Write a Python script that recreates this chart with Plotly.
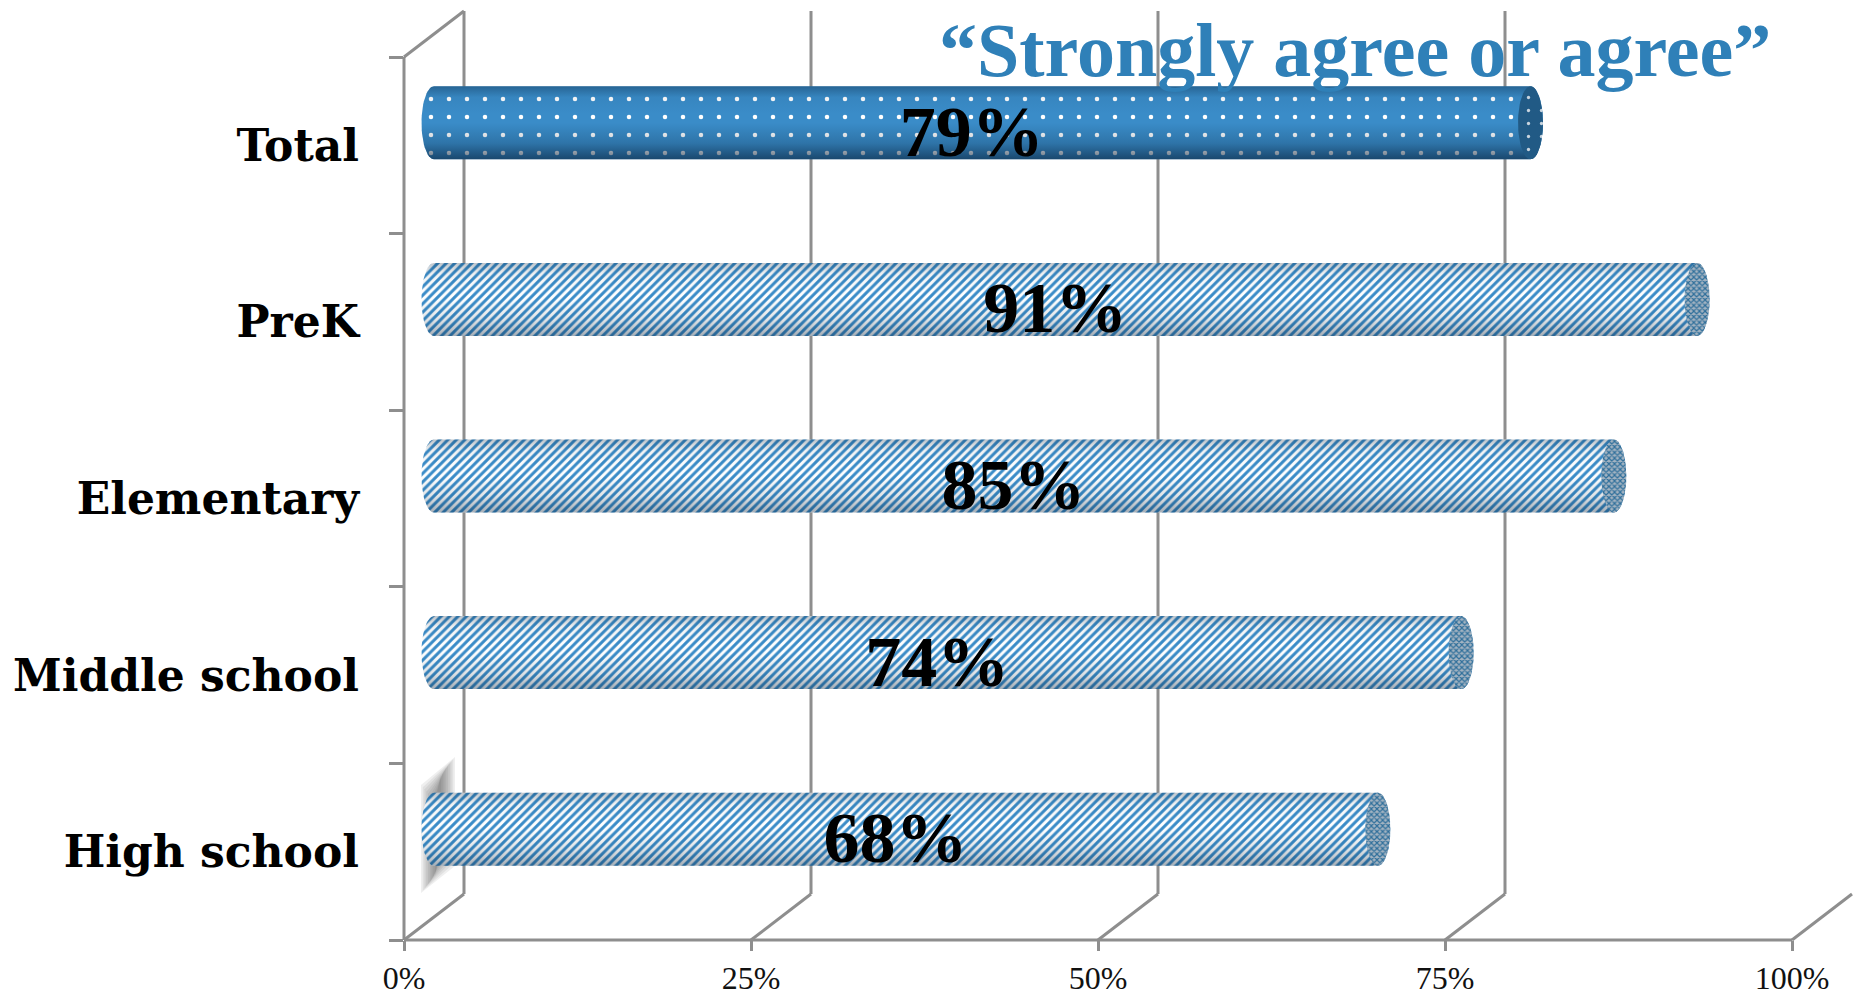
import numpy as np
import plotly.graph_objects as go

categories = ["High school", "Middle school", "Elementary", "PreK", "Total"]
values = [68, 74, 85, 91, 79]
x_ticks = [0, 25, 50, 75, 100]
x_tick_labels = ["0%", "25%", "50%", "75%", "100%"]
title_text = "“Strongly agree or agree”"

W, H = 1855, 998
L, B = 404, 58
PX_X = 13.88           # px per percent
PX_Y = 176.6           # px per category
XMAX = (W - L) / PX_X
YMIN, YMAX = -0.5, -0.5 + (H - B) / PX_Y
DX = 60 / PX_X         # wall depth
DY = 46 / PX_Y
TOP = 4.5
BLUE = "#3a8cc8"
GRID = "#8e8e8e"
BAR_W = 73 / PX_Y
RX, RY = 12.5 / PX_X, BAR_W / 2
MID_X, MID_Y = DX / 2, 22.5 / PX_Y
T = np.linspace(0, 2 * np.pi, 61)

def px_to_x(p):
    return (p - L) / PX_X

def px_to_y(p):
    return -0.5 + (H - B - p) / PX_Y

def xp(x):
    return x / XMAX

def yp(y):
    return (y - YMIN) / (YMAX - YMIN)

shapes = []
def line(x0, y0, x1, y1):
    # paper references so that lines on the plot edge are not clipped
    shapes.append(dict(type="line", xref="paper", yref="paper", layer="below",
                       x0=xp(x0), y0=yp(y0), x1=xp(x1), y1=yp(y1),
                       line=dict(color=GRID, width=3)))

line(0, YMIN, 100, YMIN)
line(0, YMIN, 0, TOP)
line(0, TOP, DX, TOP + DY)
for t in x_ticks:
    line(t, YMIN, t + DX, YMIN + DY)
    if t < 100:
        line(t + DX, YMIN + DY, t + DX, TOP + DY)

# soft grey smudge behind the lower-left bar
for k in range(9):
    inset = k * 2.2
    alpha = 0.085
    xa, xb = 421 + inset * 0.8, 455 - inset * 0.8
    pts = [(xa, 785 + inset), (xb, 757 + inset), (xb, 866 - inset), (xa, 893 - inset)]
    path = "M " + " L ".join(f"{px_to_x(a):.3f},{px_to_y(b):.3f}" for a, b in pts) + " Z"
    shapes.append(dict(type="path", xref="x", yref="y", layer="below", path=path,
                       fillcolor=f"rgba(70,70,70,{alpha})", line=dict(width=0)))

fig = go.Figure()

STRIPES = dict(shape="/", bgcolor="#ffffff", fgcolor=BLUE, size=6, solidity=0.5, fillmode="replace")
DOTS = dict(shape=".", bgcolor=BLUE, fgcolor="#ffffff", size=18, solidity=0.05, fillmode="replace")

def body_pattern(cat):
    return DOTS if cat == "Total" else STRIPES

def cap_pattern(cat):
    if cat == "Total":
        return dict(shape=".", bgcolor="#215a85", fgcolor="#c8d4de", size=13, solidity=0.05, fillmode="replace")
    return dict(shape="x", bgcolor="#a3b3c1", fgcolor="#2f6f9b", size=4, solidity=0.5, fillmode="replace")

positions = [i + MID_Y for i in range(len(categories))]
for cat in ("stripes", "dots"):
    idx = [i for i, c in enumerate(categories) if (c == "Total") == (cat == "dots")]
    fig.add_trace(go.Bar(
        y=[positions[i] for i in idx], x=[values[i] for i in idx], base=[MID_X] * len(idx), orientation="h",
        width=BAR_W, marker=dict(color=BLUE, line=dict(width=0), pattern=DOTS if cat == "dots" else STRIPES),
        hoverinfo="skip", showlegend=False))

for i, (cat, v) in enumerate(zip(categories, values)):
    yc = positions[i]
    end = MID_X + v
    # rounded far-left end
    t_left = np.linspace(np.pi / 2, 3 * np.pi / 2, 31)
    fig.add_trace(go.Scatter(x=MID_X + RX * np.cos(t_left), y=yc + RY * np.sin(t_left), mode="lines",
                             line=dict(width=0), fill="toself", fillcolor=BLUE, fillpattern=body_pattern(cat),
                             hoverinfo="skip", showlegend=False))
    t_right = np.linspace(-np.pi / 2, np.pi / 2, 31)
    fig.add_trace(go.Scatter(x=end + RX * np.cos(t_right), y=yc + RY * np.sin(t_right), mode="lines",
                             line=dict(width=0), fill="toself", fillcolor=BLUE, fillpattern=body_pattern(cat),
                             hoverinfo="skip", showlegend=False))
    # cylinder shading
    strong = cat == "Total"
    e0 = 0.62 if strong else 0.36
    e1 = 0.36 if strong else 0.26
    mid0 = 0.22 if strong else 0.12
    xs = np.r_[MID_X + RX * np.cos(t_left), end + RX * np.cos(t_right)]
    ys = np.r_[yc + RY * np.sin(t_left), yc + RY * np.sin(t_right)]
    fig.add_trace(go.Scatter(x=xs, y=ys, mode="lines", line=dict(width=0), fill="toself",
                             fillgradient=dict(type="vertical", colorscale=[
                                 [0, f"rgba(5,30,55,{e0})"], [0.22, f"rgba(5,30,55,{mid0})"], [0.5, "rgba(5,30,55,0)"],
                                 [0.62, "rgba(5,30,55,0)"], [0.85, "rgba(5,30,55,0.06)"], [1, f"rgba(5,30,55,{e1})"]]),
                             hoverinfo="skip", showlegend=False))
    # end cap
    fig.add_trace(go.Scatter(x=end + RX * np.cos(T), y=yc + RY * np.sin(T), mode="lines",
                             line=dict(width=0), fill="toself", fillcolor="#215a85", fillpattern=cap_pattern(cat),
                             hoverinfo="skip", showlegend=False))

fig.add_trace(go.Scatter(
    x=[MID_X + v / 2 - 0.75 for v in values], y=[p - 15 / PX_Y for p in positions],
    mode="text", text=[f"{v}%" for v in values], textposition="middle center",
    textfont=dict(family="Liberation Serif", size=72, color="#000000", weight="bold"),
    hoverinfo="skip", showlegend=False))

fig.add_annotation(x=px_to_x(1355), y=px_to_y(50), xref="x", yref="y", text=f"<b>{title_text}</b>",
                   showarrow=False, xanchor="center", yanchor="middle",
                   font=dict(family="Liberation Serif", size=76, color="#2f80b8"))

fig.update_layout(
    width=W, height=H, margin=dict(l=L, r=0, t=0, b=B, autoexpand=False), barmode="overlay",
    paper_bgcolor="#ffffff", plot_bgcolor="#ffffff", shapes=shapes, showlegend=False,
    xaxis=dict(range=[0, XMAX], tickmode="array", tickvals=x_ticks, ticktext=x_tick_labels,
               showgrid=False, zeroline=False, showline=False, ticks="outside", ticklen=10, tickwidth=2.5,
               tickcolor=GRID, tickfont=dict(family="Liberation Serif", size=32, color="#111111"),
               ticklabelstandoff=0),
    yaxis=dict(range=[YMIN, YMAX], tickmode="array", tickvals=list(range(5)), ticktext=[f"<b>{c}</b>" for c in categories],
               showgrid=False, zeroline=False, showline=False, ticks="", ticklabelstandoff=44,
               tickfont=dict(family="DejaVu Serif", size=44, color="#000000"),
               minor=dict(tickmode="array", tickvals=[i - 0.5 for i in range(6)], ticks="outside", ticklen=14,
                          tickwidth=2.5, tickcolor=GRID, showgrid=False)),
)
fig.write_html("out.html", config={"displayModeBar": False},
               post_script="document.body.style.margin='0';document.body.style.overflow='hidden';")
